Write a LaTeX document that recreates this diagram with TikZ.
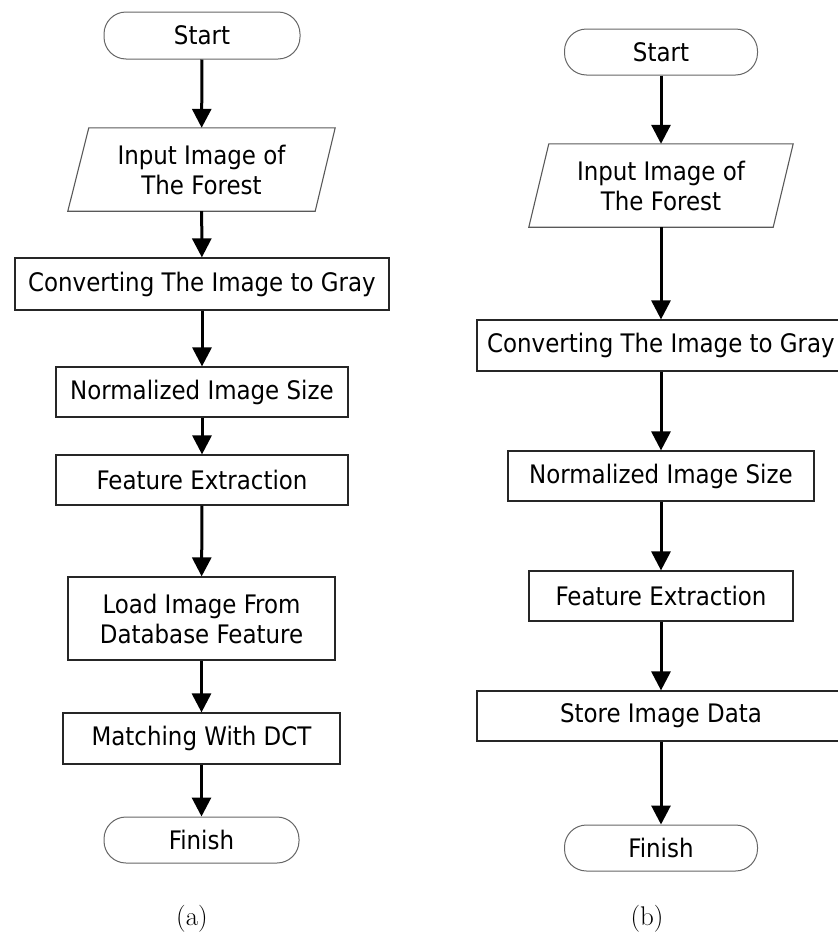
\documentclass[tikz,border=0pt]{standalone}
\usepackage{fontspec}
\newfontfamily\flowfont{DejaVu Sans Condensed}
\usetikzlibrary{arrows.meta}
\begin{document}
\begin{tikzpicture}[x=1pt,y=-1pt,
  txt/.style={inner sep=0pt, align=center, font=\flowfont\fontsize{25.5}{30}\selectfont},
  box/.style={txt, draw=black!85, line width=1.2pt},
  term/.style={txt, draw=black!60, line width=1pt, rounded corners=22pt},
  ioshape/.style={draw=black!65, line width=1.1pt},
  link/.style={line width=3pt, -{Triangle[width=19pt,length=19pt]}},
  subcap/.style={inner sep=0pt, font=\fontsize{27}{30}\selectfont}
]
\useasboundingbox (0,0) rectangle (838,932);
% ---------- (a) ----------
\node[term, minimum width=196pt, minimum height=47pt] (sa) at (202,35.5) {Start};
\node[txt, minimum width=267pt, minimum height=83pt] (ia) at (201.5,169.5) {Input Image of\\The Forest};
\node[box, minimum width=374pt, minimum height=52pt] (ca) at (202,284) {Converting The Image to Gray};
\node[box, minimum width=292pt, minimum height=50pt] (na) at (202,392) {Normalized Image Size};
\node[box, minimum width=292pt, minimum height=50pt] (fa) at (202,480) {Feature Extraction};
\node[box, minimum width=267pt, minimum height=83pt] (la) at (201.5,618.5) {Load Image From\\Database Feature};
\node[box, minimum width=277pt, minimum height=51pt] (ma) at (201.5,738.5) {Matching With DCT};
\node[term, minimum width=195pt, minimum height=46pt] (ea) at (201.5,840) {Finish};
\node[subcap] (capa) at (192,919) {(a)};
\draw[ioshape] ([xshift=21pt]ia.north west) -- (ia.north east) -- ([xshift=-20pt]ia.south east) -- (ia.south west) -- cycle;
\draw[link] (sa) -- (ia);
\draw[link] (ia) -- (ca);
\draw[link] (ca) -- (na);
\draw[link] (na) -- (fa);
\draw[link] (fa) -- (la);
\draw[link] (la) -- (ma);
\draw[link] (ma) -- (ea);
% ---------- (b) ----------
\node[term, minimum width=193pt, minimum height=46pt] (sb) at (661,52) {Start};
\node[txt, minimum width=264pt, minimum height=83pt] (ib) at (661,185.5) {Input Image of\\The Forest};
\node[box, minimum width=368pt, minimum height=51pt] (cb) at (661,345.5) {Converting The Image to Gray};
\node[box, minimum width=306pt, minimum height=50pt] (nb) at (661,476) {Normalized Image Size};
\node[box, minimum width=264pt, minimum height=50pt] (fb) at (661,596) {Feature Extraction};
\node[box, minimum width=368pt, minimum height=50pt] (stb) at (661,716) {Store Image Data};
\node[term, minimum width=193pt, minimum height=46pt] (eb) at (661,848) {Finish};
\node[subcap] (capb) at (647,919) {(b)};
\draw[ioshape] ([xshift=20pt]ib.north west) -- (ib.north east) -- ([xshift=-20pt]ib.south east) -- (ib.south west) -- cycle;
\draw[link] (sb) -- (ib);
\draw[link] (ib) -- (cb);
\draw[link] (cb) -- (nb);
\draw[link] (nb) -- (fb);
\draw[link] (fb) -- (stb);
\draw[link] (stb) -- (eb);
\end{tikzpicture}
\end{document}
